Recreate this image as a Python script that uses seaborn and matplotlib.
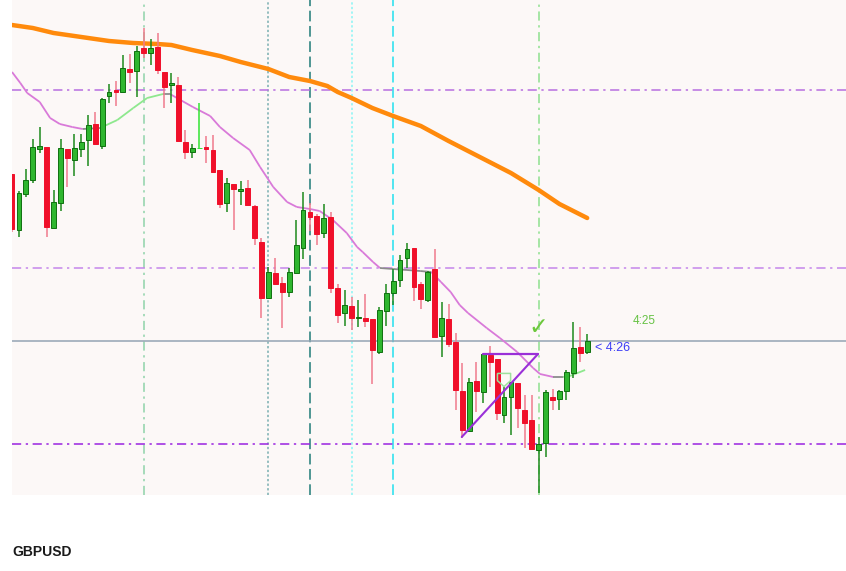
import numpy as np
import seaborn as sns
import matplotlib.pyplot as plt
from matplotlib.collections import LineCollection

# candles (oldest first)
open_ = [1.2826, 1.2770, 1.2806, 1.2820, 1.2851, 1.2853, 1.2772, 1.2797, 1.2851, 1.2840,
         1.2851, 1.2860, 1.2876, 1.2854, 1.2904, 1.2910, 1.2908, 1.2931, 1.2929, 1.2952,
         1.2947, 1.2953, 1.2928, 1.2915, 1.2915, 1.2858, 1.2848, 1.2852, 1.2853, 1.2850,
         1.2830, 1.2797, 1.2816, 1.2809, 1.2812, 1.2794, 1.2758, 1.2702, 1.2727, 1.2717,
         1.2708, 1.2727, 1.2752, 1.2788, 1.2784, 1.2767, 1.2783, 1.2712, 1.2687, 1.2694,
         1.2682, 1.2682, 1.2681, 1.2648, 1.2689, 1.2707, 1.2720, 1.2742, 1.2752, 1.2716,
         1.2700, 1.2731, 1.2664, 1.2681, 1.2658, 1.2609, 1.2569, 1.2619, 1.2608, 1.2645,
         1.2641, 1.2585, 1.2603, 1.2617, 1.2590, 1.2580, 1.2550, 1.2557, 1.2603, 1.2601,
         1.2609, 1.2627, 1.2653, 1.2648]
high = [1.2826, 1.2809, 1.2831, 1.2861, 1.2873, 1.2853, 1.2810, 1.2861, 1.2851, 1.2866,
        1.2866, 1.2885, 1.2888, 1.2902, 1.2916, 1.2919, 1.2945, 1.2946, 1.2954, 1.2972,
        1.2961, 1.2967, 1.2928, 1.2927, 1.2923, 1.2870, 1.2856, 1.2897, 1.2864, 1.2865,
        1.2830, 1.2822, 1.2816, 1.2819, 1.2820, 1.2795, 1.2762, 1.2733, 1.2742, 1.2723,
        1.2732, 1.2780, 1.2808, 1.2797, 1.2786, 1.2796, 1.2788, 1.2716, 1.2710, 1.2703,
        1.2700, 1.2706, 1.2681, 1.2693, 1.2716, 1.2731, 1.2745, 1.2757, 1.2752, 1.2718,
        1.2729, 1.2751, 1.2698, 1.2696, 1.2667, 1.2637, 1.2622, 1.2638, 1.2646, 1.2654,
        1.2641, 1.2613, 1.2618, 1.2617, 1.2605, 1.2605, 1.2563, 1.2610, 1.2611, 1.2610,
        1.2630, 1.2678, 1.2673, 1.2666]
low = [1.2768, 1.2763, 1.2803, 1.2817, 1.2847, 1.2763, 1.2772, 1.2789, 1.2813, 1.2824,
       1.2843, 1.2834, 1.2856, 1.2851, 1.2897, 1.2894, 1.2907, 1.2917, 1.2903, 1.2942,
       1.2935, 1.2926, 1.2892, 1.2897, 1.2859, 1.2841, 1.2842, 1.2852, 1.2837, 1.2827,
       1.2792, 1.2788, 1.2770, 1.2795, 1.2795, 1.2755, 1.2682, 1.2702, 1.2716, 1.2672,
       1.2703, 1.2727, 1.2741, 1.2769, 1.2755, 1.2762, 1.2707, 1.2677, 1.2674, 1.2670,
       1.2673, 1.2673, 1.2616, 1.2646, 1.2674, 1.2695, 1.2713, 1.2732, 1.2699, 1.2691,
       1.2698, 1.2663, 1.2643, 1.2653, 1.2590, 1.2562, 1.2569, 1.2588, 1.2597, 1.2613,
       1.2580, 1.2577, 1.2565, 1.2572, 1.2552, 1.2551, 1.2507, 1.2543, 1.2590, 1.2590,
       1.2600, 1.2622, 1.2638, 1.2646]
close = [1.2771, 1.2807, 1.2820, 1.2853, 1.2854, 1.2773, 1.2798, 1.2852, 1.2842, 1.2852,
         1.2858, 1.2875, 1.2856, 1.2901, 1.2908, 1.2908, 1.2932, 1.2928, 1.2949, 1.2947,
         1.2952, 1.2930, 1.2913, 1.2917, 1.2859, 1.2848, 1.2852, 1.2852, 1.2851, 1.2828,
         1.2796, 1.2817, 1.2811, 1.2811, 1.2795, 1.2762, 1.2702, 1.2728, 1.2716, 1.2708,
         1.2728, 1.2755, 1.2790, 1.2783, 1.2766, 1.2782, 1.2712, 1.2685, 1.2695, 1.2682,
         1.2683, 1.2679, 1.2650, 1.2690, 1.2707, 1.2719, 1.2740, 1.2751, 1.2713, 1.2701,
         1.2728, 1.2663, 1.2682, 1.2656, 1.2610, 1.2570, 1.2618, 1.2609, 1.2646, 1.2638,
         1.2587, 1.2603, 1.2618, 1.2592, 1.2577, 1.2551, 1.2556, 1.2608, 1.2600, 1.2609,
         1.2628, 1.2652, 1.2647, 1.2659]

# slow moving average (orange), sampled at candle indices
ma_slow_idx = [0, 3, 6, 10, 14, 17.5, 21, 23, 26, 30, 33, 37, 40, 43, 45.5, 47, 49,
               52, 55, 59, 63, 67.5, 72, 76, 79, 83]
ma_slow = [1.2975, 1.2972, 1.2967, 1.2963, 1.2959, 1.2957, 1.2956, 1.2955, 1.2950,
           1.2944, 1.2938, 1.2931, 1.2923, 1.2919, 1.2914, 1.2908, 1.2902, 1.2892,
           1.2884, 1.2874, 1.2859, 1.2843, 1.2827, 1.2810, 1.2796, 1.2782]

# fast moving average (coloured by slope)
ma_fast_idx = [0, 1.2, 2.2, 4.0, 5.5, 6.9, 8.7, 10.2, 12.7, 15.2, 17.5, 19.5, 21.8,
               22.8, 23.8, 26.1, 28.6, 30.0, 31.9, 34.3, 35.8, 37.7, 39.7, 41.1, 43.0,
               44.4, 46.3, 48.3, 49.8, 50.6, 52.1, 53.1, 55.0, 57.0, 58.9, 60.5, 61.9,
               63.3, 64.6, 65.8, 68.5, 70.4, 72.9, 75.2, 76.2, 78.1, 79.5, 80.5, 82.7]
ma_fast = [1.2928, 1.2917, 1.2907, 1.2898, 1.2882, 1.2876, 1.2873, 1.2871, 1.2872,
           1.2880, 1.2892, 1.2902, 1.2906, 1.2906, 1.2902, 1.2893, 1.2884, 1.2873,
           1.2862, 1.2850, 1.2833, 1.2813, 1.2798, 1.2793, 1.2791, 1.2789, 1.2780,
           1.2767, 1.2753, 1.2748, 1.2738, 1.2732, 1.2731, 1.2730, 1.2729, 1.2728,
           1.2718, 1.2708, 1.2695, 1.2687, 1.2672, 1.2662, 1.2648, 1.2632, 1.2626,
           1.2623, 1.2623, 1.2624, 1.2630]

levels = [1.2910, 1.2732, 1.2556]
vlines_idx = [19, 37, 43, 49, 55, 76]

# triangle pattern
tri_idx = [64.9, 75.9, 68.0]
tri_px = [1.2563, 1.2646, 1.2646]

sns.set_style("white")
plt.rcParams['font.family'] = ['Liberation Sans', 'DejaVu Sans']

fig = plt.figure(figsize=(8.46, 5.71), dpi=100, facecolor="#ffffff")
ax = fig.add_axes([12 / 846, 76 / 571, 834 / 846, 495 / 571])
ax.set_facecolor("#fcf8f7")

x = np.arange(len(open_))
o = np.array(open_)
c = np.array(close)
up = c > o
doji = c == o

# vertical markers
vstyles = [("#8fd3aa", (6, 3, 1.5, 3)), ("#78aeb0", (1.5, 1.5)), ("#1f7b78", (7, 3)),
           ("#8af5f5", (1.5, 1.5)), ("#22e0ee", (7, 3)), ("#8ee08e", (6, 3, 1.5, 3))]
for xi, (col, dash) in zip(vlines_idx, vstyles):
    ln = ax.axvline(xi, color=col, lw=1.1, zorder=1)
    ln.set_dashes(dash)

# horizontal levels
lvl_cols = ["#b86ee0", "#c486ea", "#9a22e0"]
for lv, col in zip(levels, lvl_cols):
    ln = ax.axhline(lv, color=col, lw=1.1, zorder=1)
    ln.set_dashes((6, 3, 1.5, 3))
ax.axhline(close[-1], color="#94a4b4", lw=1.1, zorder=1)

# moving averages
sns.lineplot(x=ma_slow_idx, y=ma_slow, color="#ff8a0c", lw=3.2, ax=ax, zorder=2)

pts = np.column_stack([ma_fast_idx, ma_fast])
segs = np.stack([pts[:-1], pts[1:]], axis=1)
slope = np.diff(ma_fast) / np.diff(ma_fast_idx)
seg_cols = ["#8ee88e" if s > 0.00008 else "#d97ad9" if s < -0.00008 else "#8c8c8c"
            for s in slope]
ax.add_collection(LineCollection(segs, colors=seg_cols, linewidths=1.3, zorder=2))

# candles
wick_cols = np.where(up, "#1d8a1d", "#f07a8c")
wick_cols = np.where(doji, "#33e433", wick_cols)
ax.vlines(x, low, high, colors=wick_cols, lw=1.1, zorder=3)
bottom = np.minimum(o, c)
height = np.maximum(np.abs(c - o), 0.00004)
body_cols = np.where(up, "#2fb62f", "#f0102a")
body_cols = np.where(doji, "#33e433", body_cols)
edge_cols = np.where(up, "#0f700f", "#f0102a")
edge_cols = np.where(doji, "#33e433", edge_cols)
ax.bar(x, height, bottom=bottom, width=0.7, color=body_cols, edgecolor=edge_cols,
       linewidth=0.7, zorder=4)

# triangle
ax.plot([tri_idx[0], tri_idx[1]], [tri_px[0], tri_px[1]], color="#9a30d8", lw=1.5, zorder=5)
ax.plot([tri_idx[2], tri_idx[1]], [tri_px[2], tri_px[1]], color="#9a30d8", lw=1.6, zorder=5)

# hollow signal marker
arrow = [(-1, 1), (1, 1), (1, -0.1), (0, -1), (-1, -0.1), (-1, 1)]
ax.scatter([71], [1.2620], marker=arrow, s=90, facecolors="none",
           edgecolors="#9ee09e", linewidths=1.1, zorder=6)

ax.text(76, 1.2673, "✓", color="#6cc83c", fontsize=17, ha="center", va="center",
        family="DejaVu Sans", fontweight="bold", zorder=6)
ax.text(89.6, 1.26785, "4:25", color="#66c244", fontsize=8.5, ha="left", va="center")
ax.text(84.1, 1.2652, "< 4:26", color="#3c3cf5", fontsize=9, ha="left", va="center")

ax.set_xlim(0, 120.35)
ax.set_ylim(1.2505, 1.3000)
ax.set_xticks([])
ax.set_yticks([])
ax.set_xlabel("")
ax.set_ylabel("")
for s in ax.spines.values():
    s.set_visible(False)

fig.text(12.5 / 846, (571 - 556) / 571, "GBPUSD", fontsize=10, fontweight="bold",
         color="#1a1a1a", ha="left", va="baseline")

fig.savefig("out.png", dpi=100, facecolor=fig.get_facecolor())
